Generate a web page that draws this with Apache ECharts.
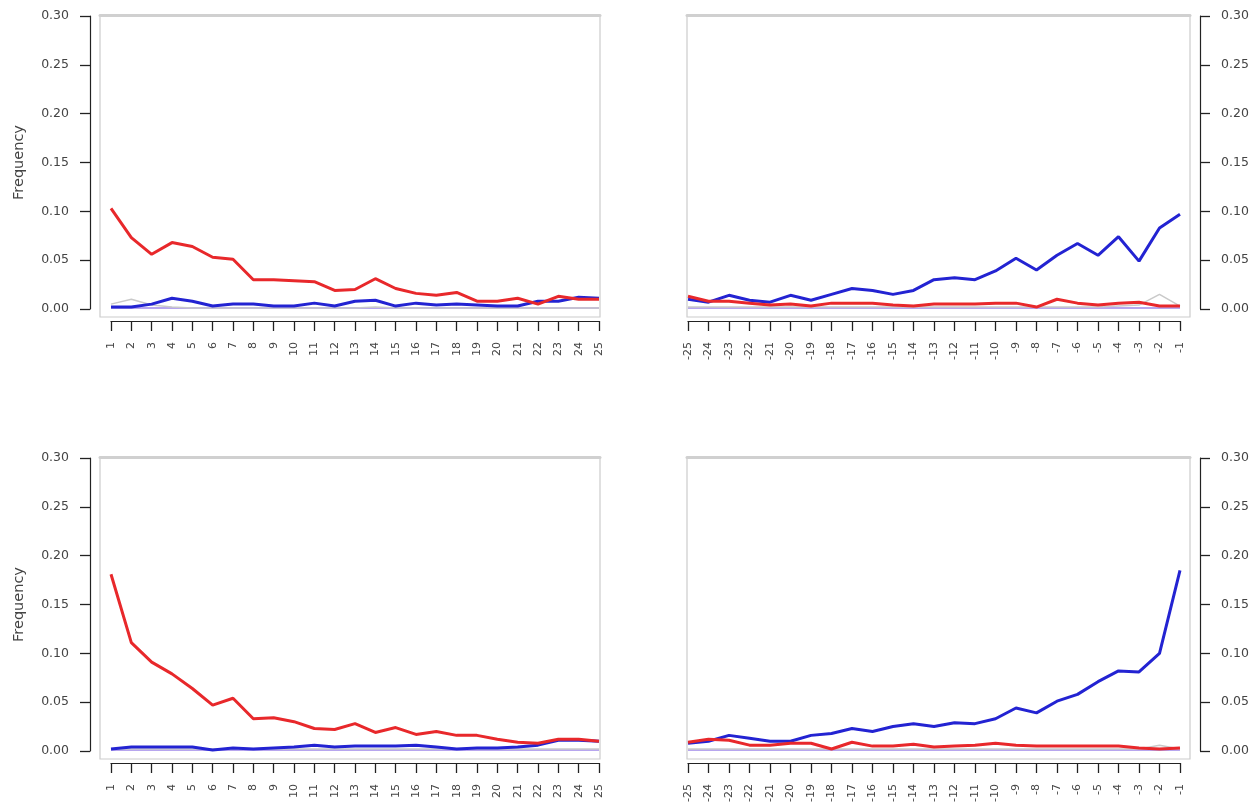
<!DOCTYPE html>
<html><head><meta charset="utf-8">
<script src="https://cdn.jsdelivr.net/npm/echarts@6/dist/echarts.min.js"></script>
<style>html,body{margin:0;padding:0;background:#fff}#c{width:1253px;height:812px}</style>
</head><body><div id="c"></div>
<script>
// categories
const posDays = [1,2,3,4,5,6,7,8,9,10,11,12,13,14,15,16,17,18,19,20,21,22,23,24,25];
const negDays = [-25,-24,-23,-22,-21,-20,-19,-18,-17,-16,-15,-14,-13,-12,-11,-10,-9,-8,-7,-6,-5,-4,-3,-2,-1];
const yTicks = [0, 0.05, 0.10, 0.15, 0.20, 0.25, 0.30];

// top-left panel
const tlRed  = [0.103,0.073,0.056,0.068,0.064,0.053,0.051,0.030,0.030,0.029,0.028,0.019,0.020,0.031,0.021,0.016,0.014,0.017,0.008,0.008,0.011,0.005,0.013,0.010,0.010];
const tlBlue = [0.002,0.002,0.005,0.011,0.008,0.003,0.005,0.005,0.003,0.003,0.006,0.003,0.008,0.009,0.003,0.006,0.004,0.005,0.004,0.003,0.003,0.008,0.008,0.012,0.011];
const tlGray = [0.005,0.010,0.004,0.002,0.001,0.001,0.001,0.001,0.001,0.001,0.001,0.001,0.001,0.002,0.001,0.001,0.001,0.001,0.001,0.001,0.001,0.001,0.001,0.001,0.001];
const tlPurple = [0.001,0.001,0.001,0.001,0.001,0.001,0.001,0.001,0.001,0.001,0.001,0.001,0.001,0.001,0.001,0.001,0.001,0.001,0.001,0.001,0.001,0.001,0.001,0.001,0.001];

// top-right panel
const trRed  = [0.013,0.008,0.008,0.006,0.004,0.005,0.003,0.006,0.006,0.006,0.004,0.003,0.005,0.005,0.005,0.006,0.006,0.002,0.010,0.006,0.004,0.006,0.007,0.003,0.003];
const trBlue = [0.010,0.007,0.014,0.009,0.007,0.014,0.009,0.015,0.021,0.019,0.015,0.019,0.030,0.032,0.030,0.039,0.052,0.040,0.055,0.067,0.055,0.074,0.049,0.083,0.097];
const trGray = [0.002,0.002,0.002,0.002,0.002,0.002,0.002,0.002,0.002,0.002,0.002,0.002,0.002,0.002,0.002,0.002,0.002,0.002,0.002,0.002,0.002,0.003,0.004,0.015,0.003];
const trPurple = [0.001,0.001,0.001,0.001,0.001,0.001,0.001,0.001,0.001,0.001,0.001,0.001,0.001,0.001,0.001,0.001,0.001,0.001,0.001,0.001,0.001,0.001,0.001,0.001,0.001];

// bottom-left panel
const blRed  = [0.181,0.111,0.091,0.079,0.064,0.047,0.054,0.033,0.034,0.030,0.023,0.022,0.028,0.019,0.024,0.017,0.020,0.016,0.016,0.012,0.009,0.008,0.012,0.012,0.010];
const blBlue = [0.002,0.004,0.004,0.004,0.004,0.001,0.003,0.002,0.003,0.004,0.006,0.004,0.005,0.005,0.005,0.006,0.004,0.002,0.003,0.003,0.004,0.006,0.011,0.011,0.010];
const blGray = [0.002,0.002,0.002,0.002,0.002,0.002,0.002,0.002,0.002,0.002,0.002,0.002,0.002,0.002,0.002,0.002,0.002,0.002,0.002,0.002,0.002,0.002,0.002,0.002,0.002];
const blPurple = [0.001,0.001,0.001,0.001,0.001,0.001,0.001,0.001,0.001,0.001,0.001,0.001,0.001,0.001,0.001,0.001,0.001,0.001,0.001,0.001,0.001,0.001,0.001,0.001,0.001];

// bottom-right panel
const brRed  = [0.009,0.012,0.011,0.006,0.006,0.008,0.008,0.002,0.009,0.005,0.005,0.007,0.004,0.005,0.006,0.008,0.006,0.005,0.005,0.005,0.005,0.005,0.003,0.002,0.003];
const brBlue = [0.008,0.010,0.016,0.013,0.010,0.010,0.016,0.018,0.023,0.020,0.025,0.028,0.025,0.029,0.028,0.033,0.044,0.039,0.051,0.058,0.071,0.082,0.081,0.100,0.185];
const brGray = [0.002,0.002,0.002,0.002,0.002,0.002,0.002,0.002,0.002,0.002,0.002,0.002,0.002,0.002,0.002,0.002,0.002,0.002,0.002,0.002,0.002,0.002,0.002,0.006,0.002];
const brPurple = [0.001,0.001,0.001,0.001,0.001,0.001,0.001,0.001,0.001,0.001,0.001,0.001,0.001,0.001,0.001,0.001,0.001,0.001,0.001,0.001,0.001,0.001,0.001,0.001,0.001];

const RED = '#e8282b', BLUE = '#2323d2', GRAY = '#c9c9c9', PURPLE = '#b7a6ee';
const FONT = 'DejaVu Sans';
const TXT = '#444444';

const panels = [
  {days: posDays, red: tlRed, blue: tlBlue, gray: tlGray, purple: tlPurple, left: 111, width: 488, top: 16, side: 'left',  box: {left: 100, width: 500, top: 15}},
  {days: negDays, red: trRed, blue: trBlue, gray: trGray, purple: trPurple, left: 688, width: 492, top: 16, side: 'right', box: {left: 687, width: 503, top: 15}},
  {days: posDays, red: blRed, blue: blBlue, gray: blGray, purple: blPurple, left: 111, width: 488, top: 458, side: 'left',  box: {left: 100, width: 500, top: 457}},
  {days: negDays, red: brRed, blue: brBlue, gray: brGray, purple: brPurple, left: 688, width: 492, top: 458, side: 'right', box: {left: 687, width: 503, top: 457}}
];

const grid = [], xAxis = [], yAxis = [], series = [];
panels.forEach((p, i) => {
  grid.push({left: p.left, top: p.top, width: p.width, height: 293, show: false});
  grid.push({left: p.box.left, top: p.box.top, width: p.box.width, height: 302, show: true,
             borderColor: '#cccccc', borderWidth: 1.2, backgroundColor: 'transparent'});
  const gi = grid.length - 2, bi = grid.length - 1;
  xAxis.push({
    type: 'value', gridIndex: gi, min: p.days[0], max: p.days[p.days.length - 1], interval: 1,
    position: 'bottom', offset: 12,
    axisLine: {show: true, onZero: false, lineStyle: {color: '#222', width: 1.2}},
    axisTick: {show: true, length: 10, lineStyle: {color: '#222', width: 1.3}},
    axisLabel: {show: true, rotate: 90, fontSize: 11, fontFamily: FONT, color: TXT, margin: 21},
    splitLine: {show: false}
  });
  // thicker top frame line like the reference
  xAxis.push({type: 'value', gridIndex: bi, position: 'top', min: 0, max: 1,
              axisLine: {show: true, onZero: false, lineStyle: {color: '#d0d0d0', width: 3}},
              axisTick: {show: false}, axisLabel: {show: false}, splitLine: {show: false}});
  yAxis.push({
    type: 'value', gridIndex: gi, min: 0, max: 0.3, interval: 0.05,
    position: p.side, offset: p.side === 'left' ? 21 : 20,
    axisLine: {show: true, lineStyle: {color: '#222', width: 1.2}},
    axisTick: {show: true, length: 10, lineStyle: {color: '#222', width: 1.3}},
    axisLabel: {show: true, fontSize: 12.5, fontFamily: FONT, color: TXT, margin: 21,
                formatter: v => v.toFixed(2)},
    splitLine: {show: false},
    name: p.side === 'left' ? 'Frequency' : '',
    nameLocation: 'middle', nameGap: 63, nameRotate: 90,
    nameTextStyle: {fontSize: 14.5, fontFamily: FONT, color: TXT}
  });
  yAxis.push({type: 'value', gridIndex: bi, show: false, min: 0, max: 1});
  const xi = xAxis.length - 2, yi = yAxis.length - 2;
  const mk = (vals, color, width, z) => ({
    type: 'line', xAxisIndex: xi, yAxisIndex: yi, z: z,
    data: p.days.map((d, k) => [d, vals[k]]),
    showSymbol: false, symbol: 'none', silent: true,
    lineStyle: {color: color, width: width}
  });
  series.push(mk(p.purple, PURPLE, 2, 2));
  series.push(mk(p.gray, GRAY, 1.5, 3));
  series.push(mk(p.blue, BLUE, 3, 4));
  series.push(mk(p.red, RED, 3, 5));
});

const chart = echarts.init(document.getElementById('c'), null, {renderer: 'canvas'});
chart.setOption({animation: false, backgroundColor: '#ffffff', grid, xAxis, yAxis, series});
</script>
</body></html>
